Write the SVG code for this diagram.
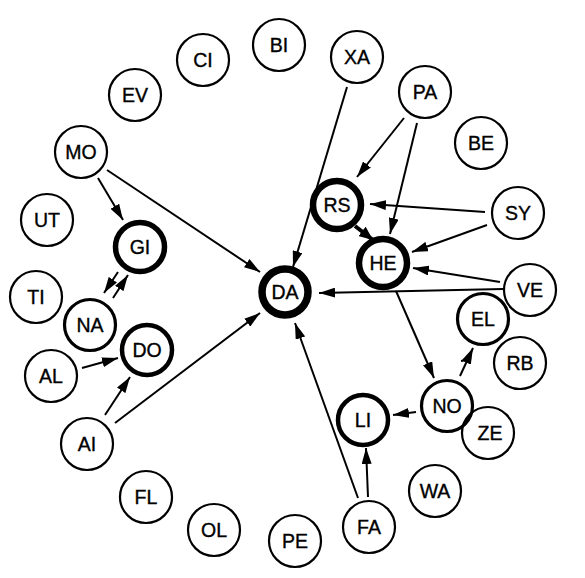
<svg xmlns="http://www.w3.org/2000/svg" width="585" height="578" viewBox="0 0 585 578">
<style>
.n circle{fill:#fff;stroke:#000;stroke-width:2.2}
.n text{font-family:"Liberation Sans",Arial,sans-serif;font-size:19.5px;text-anchor:middle;fill:#000;stroke:#000;stroke-width:0.35}
.e line{stroke:#000;stroke-width:2;marker-end:url(#ah)}
.w2 circle{stroke-width:3.2}
.w4 circle{stroke-width:4.5}
.w5 circle{stroke-width:5.5}
.w6 circle{stroke-width:6.5}
.w7 circle{stroke-width:7.5}
</style>
<defs>
<marker id="ah" viewBox="0 0 16 10" refX="16" refY="5" markerWidth="16" markerHeight="10" markerUnits="userSpaceOnUse" orient="auto"><path d="M0,0 L16,5 L0,10 z" fill="#000"/></marker>
<marker id="ahb" viewBox="0 0 14 12" refX="14" refY="6" markerWidth="14" markerHeight="12" markerUnits="userSpaceOnUse" orient="auto"><path d="M0,0 L14,6 L0,12 z" fill="#000"/></marker>
</defs>
<g id="edges" class="e">
<line x1="98" y1="178" x2="123" y2="220"/>
<line x1="107" y1="170" x2="260" y2="272"/>
<line x1="118" y1="272" x2="104" y2="293"/>
<line x1="113" y1="298" x2="128" y2="275"/>
<line x1="82" y1="368" x2="118" y2="358"/>
<line x1="105" y1="415" x2="130" y2="377"/>
<line x1="115" y1="423" x2="260" y2="313"/>
<line x1="347" y1="87" x2="293" y2="267"/>
<line x1="404" y1="118" x2="357" y2="177"/>
<line x1="417" y1="123" x2="390" y2="234"/>
<line x1="485" y1="212" x2="370" y2="204"/>
<line x1="487" y1="225" x2="412" y2="252"/>
<line x1="500" y1="282" x2="413" y2="268"/>
<line x1="503" y1="289" x2="319" y2="293"/>
<line x1="355" y1="226" x2="373" y2="240" style="stroke-width:4;marker-end:url(#ahb)"/>
<line x1="396" y1="291" x2="434" y2="378"/>
<line x1="460" y1="376" x2="473" y2="348"/>
<line x1="461" y1="361" x2="468" y2="360" style="marker-end:none"/>
<line x1="416" y1="412" x2="393" y2="415"/>
<line x1="368" y1="497" x2="366" y2="448"/>
<line x1="358" y1="498" x2="295" y2="323"/>
</g>
<g id="CI" class="n"><circle cx="203" cy="60" r="26"/><text x="203" y="67">CI</text></g>
<g id="BI" class="n"><circle cx="279" cy="45" r="26"/><text x="279" y="52">BI</text></g>
<g id="XA" class="n"><circle cx="357" cy="57" r="26"/><text x="357" y="64">XA</text></g>
<g id="PA" class="n"><circle cx="425" cy="92" r="26"/><text x="425" y="99">PA</text></g>
<g id="BE" class="n"><circle cx="481" cy="143" r="26"/><text x="481" y="150">BE</text></g>
<g id="EV" class="n"><circle cx="135" cy="95" r="26"/><text x="135" y="102">EV</text></g>
<g id="MO" class="n"><circle cx="81" cy="152" r="26"/><text x="81" y="159">MO</text></g>
<g id="UT" class="n"><circle cx="47" cy="220" r="26"/><text x="47" y="227">UT</text></g>
<g id="GI" class="n w5"><circle cx="140" cy="247" r="24.5"/><text x="140" y="254">GI</text></g>
<g id="TI" class="n"><circle cx="36" cy="297" r="26"/><text x="36" y="304">TI</text></g>
<g id="NA" class="n w2"><circle cx="90" cy="325" r="25.5"/><text x="90" y="332">NA</text></g>
<g id="DO" class="n w4"><circle cx="147" cy="350" r="25"/><text x="147" y="357">DO</text></g>
<g id="AL" class="n"><circle cx="51" cy="376" r="26"/><text x="51" y="383">AL</text></g>
<g id="AI" class="n"><circle cx="87" cy="444" r="26"/><text x="87" y="451">AI</text></g>
<g id="FL" class="n"><circle cx="146" cy="497" r="26"/><text x="146" y="504">FL</text></g>
<g id="OL" class="n"><circle cx="214" cy="530" r="26"/><text x="214" y="537">OL</text></g>
<g id="PE" class="n"><circle cx="295" cy="541" r="26"/><text x="295" y="548">PE</text></g>
<g id="FA" class="n"><circle cx="369" cy="527" r="26"/><text x="369" y="534">FA</text></g>
<g id="WA" class="n"><circle cx="435" cy="491" r="26"/><text x="435" y="498">WA</text></g>
<g id="LI" class="n w4"><circle cx="363" cy="420" r="25"/><text x="363" y="427">LI</text></g>
<g id="NO" class="n w2"><circle cx="447" cy="406" r="25.5"/><text x="447" y="413">NO</text></g>
<g id="ZE" class="n"><circle cx="488" cy="433" r="26" style="fill:none"/><text x="490" y="440">ZE</text></g>
<g id="RB" class="n"><circle cx="520" cy="363" r="26"/><text x="520" y="370">RB</text></g>
<g id="VE" class="n"><circle cx="530" cy="290" r="26"/><text x="530" y="297">VE</text></g>
<g id="EL" class="n w2"><circle cx="483" cy="319" r="25.5"/><text x="483" y="326">EL</text></g>
<g id="SY" class="n"><circle cx="518" cy="213" r="26"/><text x="518" y="220">SY</text></g>
<g id="RS" class="n w6"><circle cx="337" cy="205" r="24"/><text x="337" y="212">RS</text></g>
<g id="HE" class="n w6"><circle cx="383" cy="263" r="24"/><text x="383" y="270">HE</text></g>
<g id="DA" class="n w7"><circle cx="285" cy="292" r="23"/><text x="285" y="299">DA</text></g>
</svg>
